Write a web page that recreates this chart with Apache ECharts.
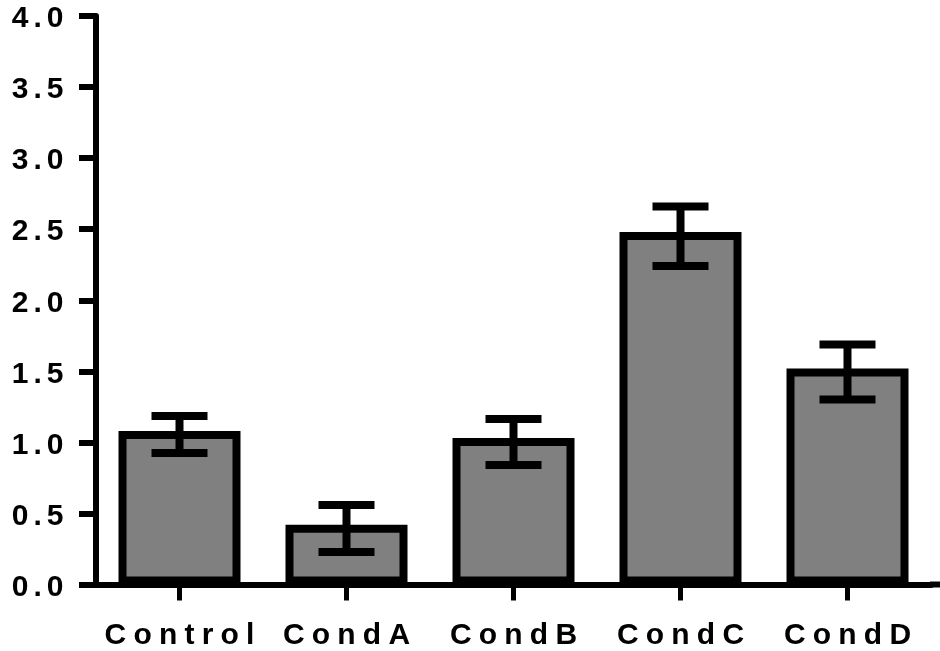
<!DOCTYPE html>
<html>
<head>
<meta charset="utf-8">
<script src="https://cdn.jsdelivr.net/npm/echarts@6/dist/echarts.min.js"></script>
<style>
html,body{margin:0;padding:0;background:#fff;}
#main{width:940px;height:651px;}
</style>
</head>
<body>
<div id="main"></div>
<script>
const categories = ['Control', 'CondA', 'CondB', 'CondC', 'CondD'];
const barValues = [1.08, 0.42, 1.03, 2.48, 1.52];
const errLow = [0.925, 0.229, 0.841, 2.241, 1.302];
const errHigh = [1.186, 0.56, 1.165, 2.66, 1.689];
const yTicks = [0, 0.5, 1.0, 1.5, 2.0, 2.5, 3.0, 3.5, 4.0];

const FONT = 'Liberation Sans, Arial, sans-serif';
function spaced(str) {
  return str.split('').map(function (c) { return '{s|' + c + '}'; }).join('');
}
const richX = {
  s: { fontFamily: FONT, fontWeight: 'bold', fontSize: 30, color: '#000', padding: [0, 3.6] }
};
const richY = {
  s: { fontFamily: FONT, fontWeight: 'bold', fontSize: 30, color: '#000', padding: [6, 2.5, 0, 2.5] }
};

const chart = echarts.init(document.getElementById('main'), null, { renderer: 'canvas' });

const errData = categories.map(function (c, i) { return [i, errLow[i], errHigh[i]]; });

chart.setOption({
  animation: false,
  backgroundColor: '#fff',
  grid: { left: 96, right: 9, top: 16, bottom: 66.5, containLabel: false },
  xAxis: {
    type: 'category',
    data: categories,
    axisLine: { lineStyle: { color: '#000', width: 6 } },
    axisTick: { show: true, alignWithLabel: true, length: 16, lineStyle: { color: '#000', width: 5 } },
    axisLabel: {
      interval: 0,
      hideOverlap: false,
      margin: 36,
      fontFamily: FONT, fontWeight: 'bold', fontSize: 30, color: '#000',
      formatter: function (v) { return spaced(v); },
      rich: richX
    },
    splitLine: { show: false }
  },
  yAxis: {
    type: 'value',
    min: yTicks[0],
    max: yTicks[yTicks.length - 1],
    interval: 0.5,
    axisLine: { show: true, lineStyle: { color: '#000', width: 6 } },
    axisTick: { show: true, length: 17, lineStyle: { color: '#000', width: 6 } },
    axisLabel: {
      margin: 30,
      fontFamily: FONT, fontWeight: 'bold', fontSize: 30, color: '#000',
      formatter: function (v) { return spaced(Number(v).toFixed(1)); },
      rich: richY
    },
    splitLine: { show: false }
  },
  series: [
    {
      type: 'bar',
      data: barValues,
      barWidth: 122,
      itemStyle: { color: '#808080', borderColor: '#000', borderWidth: 8 },
      z: 2
    },
    {
      type: 'custom',
      data: errData,
      z: 5,
      renderItem: function (params, api) {
        const x = api.value(0);
        const lo = api.coord([x, api.value(1)]);
        const hi = api.coord([x, api.value(2)]);
        const half = 28;
        const style = { stroke: '#000', lineWidth: 8, lineCap: 'butt' };
        return {
          type: 'group',
          children: [
            { type: 'line', shape: { x1: lo[0], y1: lo[1], x2: hi[0], y2: hi[1] }, style: style },
            { type: 'line', shape: { x1: hi[0] - half, y1: hi[1], x2: hi[0] + half, y2: hi[1] }, style: style },
            { type: 'line', shape: { x1: lo[0] - half, y1: lo[1], x2: lo[0] + half, y2: lo[1] }, style: style }
          ]
        };
      }
    }
  ]
});

// extend the x axis line to the right edge, as in the reference
const rect = chart.getModel().getComponent('grid').coordinateSystem.getRect();
const axisY = chart.convertToPixel({ yAxisIndex: 0 }, 0);
chart.setOption({
  graphic: [{
    type: 'line', z: 10,
    shape: { x1: rect.x + rect.width - 1, y1: axisY, x2: chart.getWidth(), y2: axisY },
    style: { stroke: '#000', lineWidth: 6 }
  }]
});
</script>
</body>
</html>
